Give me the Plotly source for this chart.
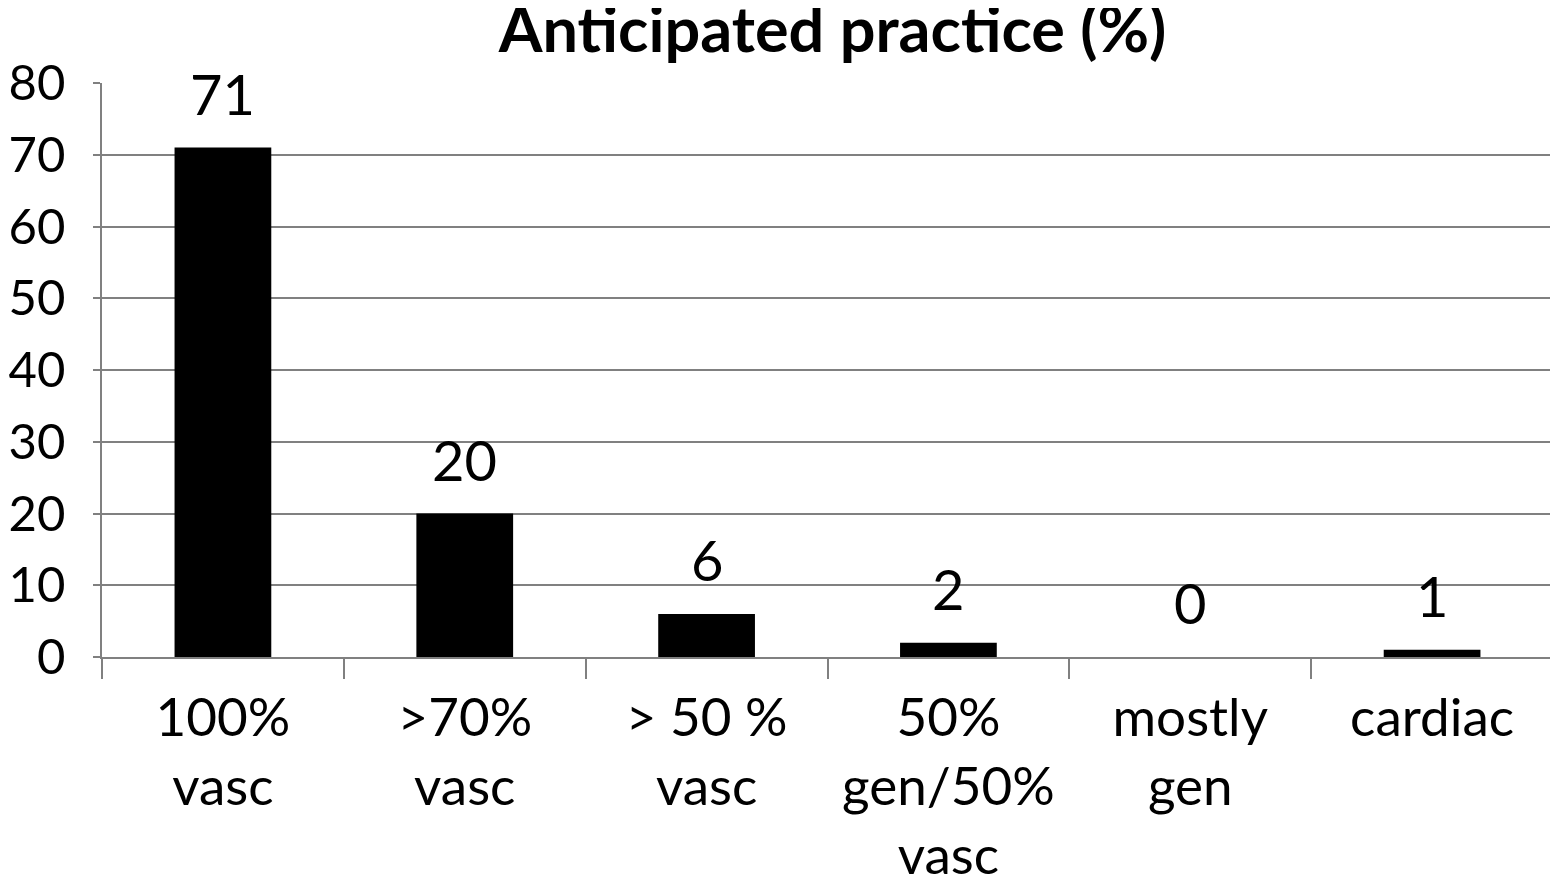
import plotly.graph_objects as go

categories = ["100%<br>vasc", ">70%<br>vasc", "> 50 %<br>vasc", "50%<br>gen/50%<br>vasc", "mostly<br>gen", "cardiac"]
values = [71, 20, 6, 2, 0, 1]
y_ticks = [0, 10, 20, 30, 40, 50, 60, 70, 80]

FONT = "Lato, 'Open Sans', sans-serif"

fig = go.Figure()
fig.add_trace(go.Bar(x=categories, y=values, marker=dict(color="black", line=dict(width=0)), width=0.4))

for c, v in zip(categories, values):
    fig.add_annotation(x=c, y=v, text=str(v), showarrow=False, yanchor="bottom", yshift=19,
                       font=dict(family=FONT, size=56, color="black"))

fig.update_layout(
    width=1550, height=875,
    margin=dict(l=94, r=5, t=75, b=226),
    paper_bgcolor="white", plot_bgcolor="white",
    showlegend=False,
    title=dict(text="<b>Anticipated practice (%)</b>", x=0.532, xanchor="center", y=0.975, yanchor="middle",
               font=dict(family=FONT, size=63, color="black")),
    font=dict(family=FONT, color="black"),
)
fig.update_xaxes(type="category", tickson="boundaries", ticks="outside", ticklen=20, tickcolor="#808080", tickwidth=1.5,
                 showline=True, linecolor="#808080", linewidth=1.5, showgrid=False, automargin=False,
                 tickfont=dict(family=FONT, size=53, color="black"), range=[-0.5, 5.5], ticklabelstandoff=14)
fig.update_yaxes(range=[0, 80], tickvals=y_ticks, ticks="outside", ticklen=7, tickcolor="#808080", tickwidth=1.5,
                 showline=True, linecolor="#808080", linewidth=1.5, showgrid=True, gridcolor="#808080", gridwidth=1.5,
                 zeroline=False, automargin=False, tickfont=dict(family=FONT, size=49, color="black"), ticklabelstandoff=18)

fig.write_html("out.html")
